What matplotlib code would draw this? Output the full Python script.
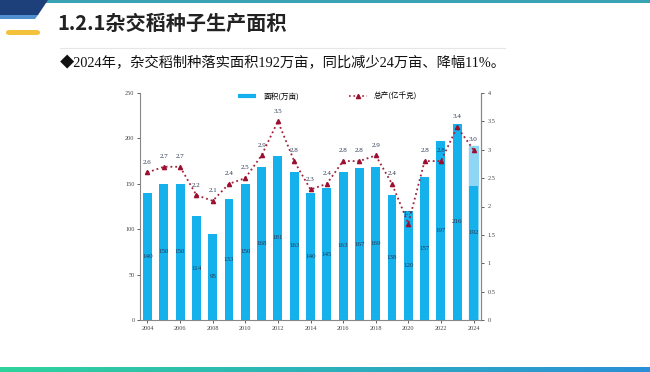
import numpy as np
import matplotlib
matplotlib.use("Agg")
import matplotlib.pyplot as plt
from matplotlib.lines import Line2D
from matplotlib.patches import Polygon, Rectangle, FancyBboxPatch
from matplotlib.colors import LinearSegmentedColormap

plt.rcParams['font.family'] = ['Liberation Serif', 'Noto Sans CJK SC', 'DejaVu Sans']

# data
years = list(range(2004, 2025))
area = [140, 150, 150, 114, 95, 133, 150, 168, 181, 163, 140, 145,
        163, 167, 169, 138, 120, 157, 197, 216, 192]
output = [2.6, 2.7, 2.7, 2.2, 2.1, 2.4, 2.5, 2.9, 3.5, 2.8, 2.3, 2.4,
          2.8, 2.8, 2.9, 2.4, 1.7, 2.8, 2.8, 3.4, 3.0]
# 2024 bar shows a pale upper part in the screenshot (dark part up to ~148)
area_2024_dark = 148

title = "1.2.1杂交稻种子生产面积"
subtitle = "◆2024年，杂交稻制种落实面积192万亩，同比减少24万亩、降幅11%。"
bar_name = "面积(万亩)"
line_name = "总产(亿千克)"

W, H = 650, 372
fig = plt.figure(figsize=(W / 100, H / 100), dpi=100)
fig.patch.set_facecolor("white")


def fx(px):
    return px / W


def fy(py):
    return 1 - py / H


# slide decorations
fig.add_artist(Rectangle((0, fy(2.5)), 1, 2.5 / H, transform=fig.transFigure,
                         color="#3aa3b3", lw=0))
fig.add_artist(Polygon([(fx(0), fy(0)), (fx(48), fy(0)), (fx(38), fy(15)), (fx(0), fy(15))],
                       closed=True, transform=fig.transFigure, color="#1d3f7a", lw=0))
fig.add_artist(Polygon([(fx(0), fy(15)), (fx(38), fy(15)), (fx(35), fy(19)), (fx(0), fy(19))],
                       closed=True, transform=fig.transFigure, color="#4f8fd0", lw=0))
fig.add_artist(FancyBboxPatch((fx(6), fy(35)), fx(34), 5 / H, transform=fig.transFigure,
                              boxstyle="round,pad=0,rounding_size=0.006",
                              color="#f3c13a", lw=0))
fig.add_artist(Line2D([fx(60), fx(505)], [fy(48), fy(48)], transform=fig.transFigure,
                      color="#e6e6e6", lw=0.8))

grad = fig.add_axes([0, 0, 1, 5 / H])
grad.imshow(np.linspace(0, 1, 256).reshape(1, -1), aspect="auto",
            cmap=LinearSegmentedColormap.from_list("band", ["#2fd39c", "#2b8fd8"]))
grad.axis("off")

fig.text(fx(57), fy(23), title, fontsize=14.5, fontweight="bold", color="#222222",
         family=["Noto Sans CJK SC", "DejaVu Sans"], va="center", ha="left")
fig.text(fx(60), fy(63), subtitle, fontsize=10.3, color="#111111",
         family=["Liberation Serif", "Noto Sans CJK SC", "DejaVu Sans"],
         va="center", ha="left")

# chart
ax = fig.add_axes([fx(140), fy(320), fx(481) - fx(140), (320 - 93) / H])
bar_color = "#14b1ec"
bars = ax.bar(years, area, width=0.55, color=bar_color, zorder=2)
bars[-1].set_color("#8fd6f5")
ax.bar(years[-1], area_2024_dark, width=0.55, color=bar_color, zorder=2)

for x, v in zip(years, area):
    ax.text(x, v / 2, str(v), ha="center", va="center", fontsize=5,
            color="#2a3550", zorder=4)

ax.set_xlim(years[0] - 0.46, years[-1] + 0.46)
ax.set_ylim(0, 250)
ax.set_yticks(range(0, 251, 50))
ax.set_xticks(years[::2])
ax.tick_params(labelsize=4.5, length=2, width=0.6, colors="#444444", pad=2)
for s in ["top"]:
    ax.spines[s].set_visible(False)
for s in ["left", "bottom", "right"]:
    ax.spines[s].set_color("#888888")
    ax.spines[s].set_linewidth(0.8)

ax2 = ax.twinx()
ax2.set_ylim(0, 4)
ax2.set_yticks([0, 0.5, 1, 1.5, 2, 2.5, 3, 3.5, 4])
ax2.set_yticklabels(["0", "0.5", "1", "1.5", "2", "2.5", "3", "3.5", "4"])
ax2.tick_params(labelsize=4.5, length=2, width=0.6, colors="#444444", pad=3)
ax2.spines["top"].set_visible(False)
ax2.spines["left"].set_visible(False)
ax2.spines["bottom"].set_visible(False)
ax2.spines["right"].set_color("#888888")
ax2.spines["right"].set_linewidth(0.8)

line_color = "#a3213a"
ax2.plot(years, output, linestyle=":", color=line_color, lw=1.3,
         marker="^", markersize=3, markerfacecolor="#9b1030",
         markeredgecolor="#9b1030", zorder=5)
for x, v in zip(years, output):
    ax2.annotate(f"{v:.1f}", (x, v), xytext=(0, 5.5), textcoords="offset points",
                 ha="center", va="bottom", fontsize=5, color="#2a3550", zorder=6)

handles = [Line2D([], [], color=bar_color, lw=3, solid_capstyle="butt"),
           Line2D([], [], color=line_color, lw=1.2, linestyle=":", marker="^",
                  markersize=3, markerfacecolor="#9b1030", markeredgecolor="#9b1030")]
ax.legend(handles, [bar_name, line_name], ncol=2, loc="center",
          bbox_to_anchor=(0.55, 0.985), frameon=False,
          columnspacing=6.5, handlelength=2.4, handletextpad=0.9,
          prop={"family": ["Noto Sans CJK SC", "DejaVu Sans"], "size": 5.5})

fig.savefig("out.png", dpi=100)
